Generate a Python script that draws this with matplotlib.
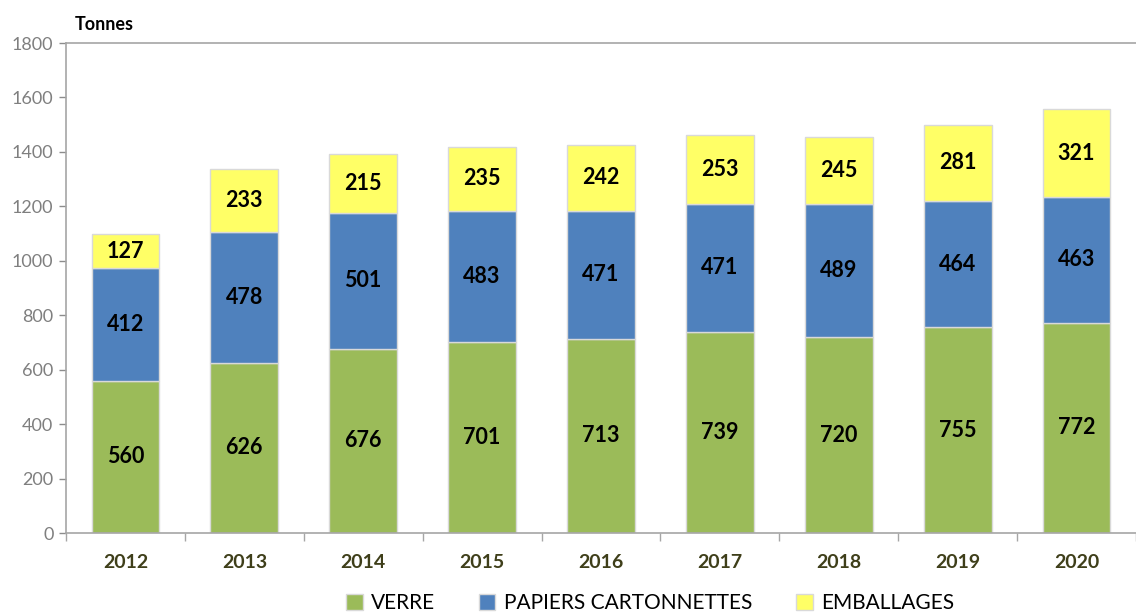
import matplotlib.pyplot as plt
import numpy as np

years = ['2012', '2013', '2014', '2015', '2016', '2017', '2018', '2019', '2020']
verre = [560, 626, 676, 701, 713, 739, 720, 755, 772]
papiers = [412, 478, 501, 483, 471, 471, 489, 464, 463]
emballages = [127, 233, 215, 235, 242, 253, 245, 281, 321]

plt.rcParams['font.family'] = ['Lato', 'DejaVu Sans']

fig = plt.figure(figsize=(11.36, 6.15), dpi=100)
ax = fig.add_axes([66 / 1136, 82 / 615, 1070 / 1136, 490 / 615])

pos = np.arange(len(years))
w = 0.57
edge = '#D9D9D9'
b1 = ax.bar(pos, verre, w, color='#9BBB59', edgecolor=edge, linewidth=1)
bottom2 = np.array(verre)
b2 = ax.bar(pos, papiers, w, bottom=bottom2, color='#4F81BD', edgecolor=edge, linewidth=1)
bottom3 = bottom2 + np.array(papiers)
b3 = ax.bar(pos, emballages, w, bottom=bottom3, color='#FFFF66', edgecolor=edge, linewidth=1)

for bars in (b1, b2, b3):
    ax.bar_label(bars, label_type='center', fontsize=15.5, fontweight='bold', color='black')

ax.set_xlim(-0.5, len(years) - 0.5)
ax.set_ylim(0, 1800)
ax.set_yticks(range(0, 1801, 200))
ax.tick_params(axis='y', colors='#8C8C8C', labelsize=13, length=5, width=1, direction='out', pad=4)
ax.tick_params(axis='y', labelcolor='#7F7F7F')

ax.set_xticks(pos)
ax.set_xticklabels(years, fontsize=14, fontweight='bold', color='#3F3F1A')
ax.tick_params(axis='x', length=0, pad=15)
ax.set_xticks(np.arange(-0.5, len(years), 1), minor=True)
ax.tick_params(axis='x', which='minor', length=6, color='#A6A6A6', width=1)

for s in ['left', 'bottom', 'top']:
    ax.spines[s].set_color('#A6A6A6')
    ax.spines[s].set_linewidth(1.2)
ax.spines['right'].set_visible(False)

fig.text(75 / 1136, 1 - 25 / 615, 'Tonnes', fontsize=13, fontweight='bold', va='center')

leg = fig.legend([b1, b2, b3], ['VERRE', 'PAPIERS CARTONNETTES', 'EMBALLAGES'],
                 loc='center', bbox_to_anchor=(650 / 1136, 1 - 603 / 615), ncol=3,
                 frameon=False, fontsize=15, handlelength=0.8, handleheight=0.8,
                 columnspacing=2.1, handletextpad=0.4)

plt.savefig('out.png', dpi=100)
